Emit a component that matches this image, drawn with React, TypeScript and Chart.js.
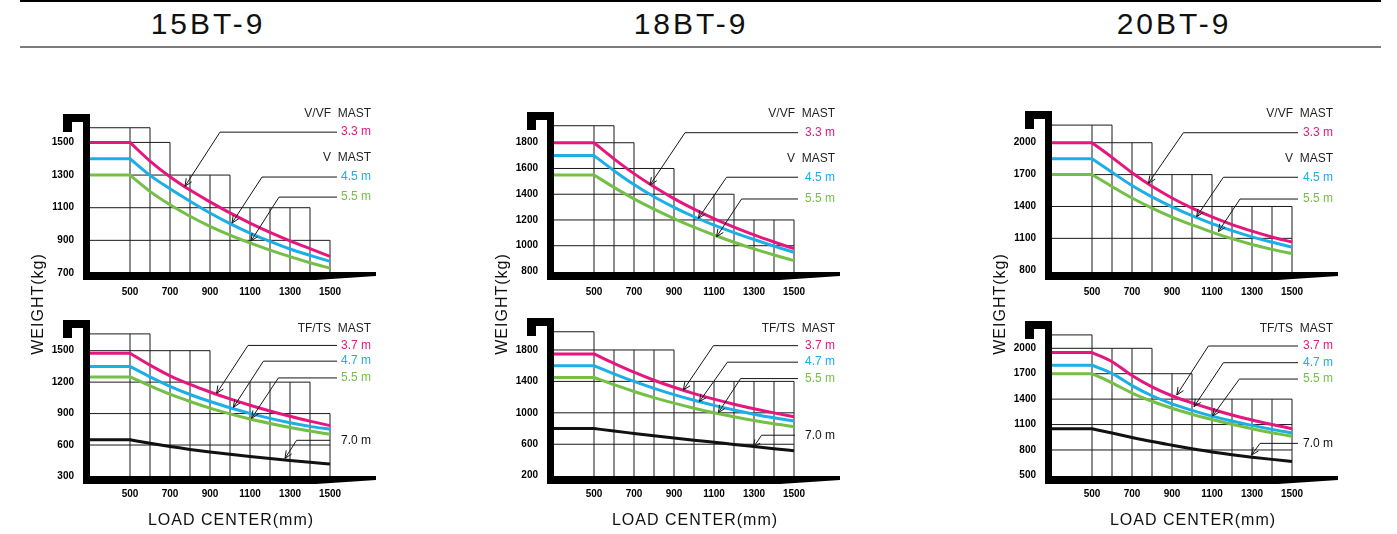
import React, { useEffect, useRef } from "react";
import { Chart, registerables } from "chart.js";

Chart.register(...registerables);

const FONT = '"Liberation Sans", Arial, Helvetica, sans-serif';
const PINK = "#E5177F";
const CYAN = "#1CAEE6";
const GREEN = "#74BF46";
const BLACK = "#111111";
const DARK = "#231F20";

// ---------- shared axes data ----------
const LOAD_CENTERS = [300, 500, 600, 700, 800, 900, 1000, 1100, 1200, 1300, 1400, 1500];
const X_TICKS = [500, 700, 900, 1100, 1300, 1500];
const GRID_EDGES = [300, 500, 600, 700, 800, 900, 1000, 1100, 1200, 1300, 1400, 1500];
const X_RANGE = [300, 1750];
const LABEL_RIGHT = 1705;

const MODELS = ["15BT-9", "18BT-9", "20BT-9"];
const X_TITLE = "LOAD CENTER(mm)";
const Y_TITLE = "WEIGHT(kg)";

// ---------- 15BT-9  V/VF ----------
const T15V_RANGE = [700, 1760];
const T15V_TICKS = [700, 900, 1100, 1300, 1500];
const T15V_ROWS = [900, 1100, 1300, 1500];
const T15V_TOPS = [1590, 1590, 1500, 1300, 1300, 1300, 1100, 1100, 1100, 1100, 900];
const T15V_33 = [1500, 1500, 1386, 1290, 1208, 1136, 1068, 1006, 949, 897, 849, 802];
const T15V_45 = [1400, 1400, 1298, 1216, 1140, 1068, 1003, 945, 894, 847, 808, 771];
const T15V_55 = [1300, 1300, 1200, 1118, 1048, 986, 932, 884, 840, 800, 763, 730];
const T15V_LABELS = ["V/VF  MAST", "3.3 m", "V  MAST", "4.5 m", "5.5 m"];
const T15V_LABEL_Y = [1679, 1563, 1404, 1288, 1165];
const T15V_LEADERS = [
  [1563, 1535, 950, 775, 1232],
  [1288, 1535, 1160, 1010, 1006],
  [1165, 1535, 1245, 1105, 896],
];

// ---------- 15BT-9  TF/TS ----------
const T15T_RANGE = [295, 1888];
const T15T_TICKS = [300, 600, 900, 1200, 1500];
const T15T_ROWS = [600, 900, 1200, 1500];
const T15T_TOPS = [1660, 1660, 1500, 1500, 1500, 1200, 1200, 1200, 1200, 1200, 900];
const T15T_37 = [1475, 1475, 1362, 1260, 1178, 1106, 1040, 980, 925, 874, 828, 785];
const T15T_47 = [1350, 1350, 1250, 1160, 1082, 1015, 956, 902, 854, 812, 778, 750];
const T15T_55 = [1250, 1250, 1165, 1085, 1015, 952, 897, 848, 806, 768, 734, 702];
const T15T_70 = [650, 650, 616, 585, 558, 534, 512, 491, 471, 452, 435, 419];
const T15T_LABELS = ["TF/TS  MAST", "3.7 m", "4.7 m", "5.5 m", "7.0 m"];
const T15T_LABEL_Y = [1714, 1550, 1400, 1240, 645];
const T15T_LEADERS = [
  [1550, 1535, 1090, 933, 1093],
  [1400, 1535, 1167, 1017, 960],
  [1240, 1535, 1242, 1108, 855],
  [645, 1500, 1333, 1275, 473],
];

// ---------- 18BT-9  V/VF ----------
const T18V_RANGE = [788, 2132];
const T18V_TICKS = [800, 1000, 1200, 1400, 1600, 1800];
const T18V_ROWS = [1000, 1200, 1400, 1600, 1800];
const T18V_TOPS = [1932, 1932, 1800, 1600, 1600, 1400, 1400, 1400, 1200, 1200, 1200];
const T18V_33 = [1800, 1800, 1675, 1560, 1458, 1366, 1284, 1210, 1144, 1084, 1029, 977];
const T18V_45 = [1700, 1700, 1583, 1475, 1380, 1298, 1225, 1160, 1102, 1048, 997, 949];
const T18V_55 = [1550, 1550, 1453, 1364, 1284, 1211, 1144, 1083, 1027, 975, 928, 884];
const T18V_LABELS = ["V/VF  MAST", "3.3 m", "V  MAST", "4.5 m", "5.5 m"];
const T18V_LABEL_Y = [2029, 1878, 1679, 1532, 1363];
const T18V_LEADERS = [
  [1878, 1520, 955, 780, 1472],
  [1532, 1520, 1163, 1022, 1213],
  [1363, 1520, 1238, 1113, 1070],
];

// ---------- 18BT-9  TF/TS ----------
const T18T_RANGE = [183, 2309];
const T18T_TICKS = [200, 600, 1000, 1400, 1800];
const T18T_ROWS = [600, 1000, 1400, 1800];
const T18T_TOPS = [2032, 1800, 1800, 1800, 1800, 1400, 1400, 1400, 1400, 1400, 1400];
const T18T_37 = [1750, 1750, 1630, 1517, 1415, 1325, 1245, 1174, 1110, 1052, 999, 950];
const T18T_47 = [1600, 1600, 1497, 1400, 1312, 1232, 1160, 1095, 1036, 983, 936, 895];
const T18T_55 = [1450, 1450, 1358, 1272, 1194, 1123, 1059, 1001, 949, 902, 860, 823];
const T18T_70 = [800, 800, 768, 738, 708, 680, 652, 625, 598, 571, 544, 516];
const T18T_LABELS = ["TF/TS  MAST", "3.7 m", "4.7 m", "5.5 m", "7.0 m"];
const T18T_LABEL_Y = [2076, 1855, 1645, 1436, 715];
const T18T_LEADERS = [
  [1855, 1520, 1097, 947, 1291],
  [1645, 1520, 1167, 1027, 1142],
  [1436, 1520, 1233, 1122, 1002],
  [715, 1505, 1338, 1297, 561],
];

// ---------- 20BT-9  V/VF ----------
const T20V_RANGE = [774, 2402];
const T20V_TICKS = [800, 1100, 1400, 1700, 2000];
const T20V_ROWS = [1100, 1400, 1700, 2000];
const T20V_TOPS = [2166, 2166, 2000, 2000, 1700, 1700, 1700, 1400, 1400, 1400, 1400];
const T20V_33 = [2000, 2000, 1862, 1718, 1590, 1480, 1385, 1302, 1230, 1168, 1113, 1065];
const T20V_45 = [1850, 1850, 1722, 1597, 1490, 1396, 1313, 1239, 1173, 1114, 1063, 1019];
const T20V_55 = [1700, 1700, 1588, 1480, 1385, 1300, 1226, 1159, 1097, 1042, 996, 956];
const T20V_LABELS = ["V/VF  MAST", "3.3 m", "V  MAST", "4.5 m", "5.5 m"];
const T20V_LABEL_Y = [2277, 2094, 1853, 1675, 1470];
const T20V_LEADERS = [
  [2094, 1530, 957, 782, 1618],
  [1675, 1530, 1157, 1023, 1304],
  [1470, 1530, 1240, 1132, 1163],
];

// ---------- 20BT-9  TF/TS ----------
const T20T_RANGE = [481, 2452];
const T20T_TICKS = [500, 800, 1100, 1400, 1700, 2000];
const T20T_ROWS = [800, 1100, 1400, 1700, 2000];
const T20T_TOPS = [2158, 2000, 2000, 2000, 1700, 1700, 1400, 1400, 1400, 1400, 1400];
const T20T_37 = [1950, 1950, 1842, 1680, 1545, 1440, 1355, 1280, 1213, 1153, 1100, 1051];
const T20T_47 = [1800, 1800, 1704, 1560, 1440, 1345, 1268, 1200, 1142, 1090, 1043, 1001];
const T20T_55 = [1700, 1700, 1593, 1472, 1375, 1292, 1222, 1160, 1103, 1051, 1004, 961];
const T20T_70 = [1050, 1050, 1001, 948, 899, 856, 815, 777, 744, 715, 689, 665];
const T20T_LABELS = ["TF/TS  MAST", "3.7 m", "4.7 m", "5.5 m", "7.0 m"];
const T20T_LABEL_Y = [2236, 2027, 1830, 1637, 878];
const T20T_LEADERS = [
  [2027, 1530, 1082, 924, 1449],
  [1830, 1530, 1157, 1010, 1311],
  [1637, 1530, 1237, 1103, 1201],
  [878, 1530, 1340, 1298, 741],
];

// ---------- layout ----------
const COL_AXIS = [90, 554, 1052];
const Y_AXIS_W = 70;
const PANEL_W = 380;
const ROW_TOP = [70, 280];
const ROW_H = [233, 227];
const ROW_XPAD = [13, 11];

const V_COLORS = [DARK, PINK, DARK, CYAN, GREEN];
const T_COLORS = [DARK, PINK, CYAN, GREEN, BLACK];

type Spec = {
  col: number;
  row: number;
  range: number[];
  ticks: number[];
  rows: number[];
  tops: number[];
  series: { values: number[]; color: string }[];
  labels: string[];
  labelY: number[];
  labelColors: string[];
  leaders: number[][];
};

const PANELS: Spec[] = [
  {
    col: 0, row: 0, range: T15V_RANGE, ticks: T15V_TICKS, rows: T15V_ROWS, tops: T15V_TOPS,
    series: [{ values: T15V_33, color: PINK }, { values: T15V_45, color: CYAN }, { values: T15V_55, color: GREEN }],
    labels: T15V_LABELS, labelY: T15V_LABEL_Y, labelColors: V_COLORS, leaders: T15V_LEADERS,
  },
  {
    col: 0, row: 1, range: T15T_RANGE, ticks: T15T_TICKS, rows: T15T_ROWS, tops: T15T_TOPS,
    series: [{ values: T15T_37, color: PINK }, { values: T15T_47, color: CYAN }, { values: T15T_55, color: GREEN }, { values: T15T_70, color: BLACK }],
    labels: T15T_LABELS, labelY: T15T_LABEL_Y, labelColors: T_COLORS, leaders: T15T_LEADERS,
  },
  {
    col: 1, row: 0, range: T18V_RANGE, ticks: T18V_TICKS, rows: T18V_ROWS, tops: T18V_TOPS,
    series: [{ values: T18V_33, color: PINK }, { values: T18V_45, color: CYAN }, { values: T18V_55, color: GREEN }],
    labels: T18V_LABELS, labelY: T18V_LABEL_Y, labelColors: V_COLORS, leaders: T18V_LEADERS,
  },
  {
    col: 1, row: 1, range: T18T_RANGE, ticks: T18T_TICKS, rows: T18T_ROWS, tops: T18T_TOPS,
    series: [{ values: T18T_37, color: PINK }, { values: T18T_47, color: CYAN }, { values: T18T_55, color: GREEN }, { values: T18T_70, color: BLACK }],
    labels: T18T_LABELS, labelY: T18T_LABEL_Y, labelColors: T_COLORS, leaders: T18T_LEADERS,
  },
  {
    col: 2, row: 0, range: T20V_RANGE, ticks: T20V_TICKS, rows: T20V_ROWS, tops: T20V_TOPS,
    series: [{ values: T20V_33, color: PINK }, { values: T20V_45, color: CYAN }, { values: T20V_55, color: GREEN }],
    labels: T20V_LABELS, labelY: T20V_LABEL_Y, labelColors: V_COLORS, leaders: T20V_LEADERS,
  },
  {
    col: 2, row: 1, range: T20T_RANGE, ticks: T20T_TICKS, rows: T20T_ROWS, tops: T20T_TOPS,
    series: [{ values: T20T_37, color: PINK }, { values: T20T_47, color: CYAN }, { values: T20T_55, color: GREEN }, { values: T20T_70, color: BLACK }],
    labels: T20T_LABELS, labelY: T20T_LABEL_Y, labelColors: T_COLORS, leaders: T20T_LEADERS,
  },
];

function gridSegments(rows: number[], tops: number[], yMin: number) {
  const pts: { x: number; y: number | null }[] = [];
  const levels = Array.from(new Set([...rows, ...tops])).sort((a, b) => a - b);
  for (const L of levels) {
    let end = GRID_EDGES[0];
    tops.forEach((t, i) => {
      if (t >= L) end = Math.max(end, GRID_EDGES[i + 1]);
    });
    pts.push({ x: GRID_EDGES[0], y: L }, { x: end, y: L }, { x: end, y: null });
  }
  for (let i = 1; i < GRID_EDGES.length; i++) {
    const left = tops[i - 1];
    const right = i < tops.length ? tops[i] : -Infinity;
    const h = Math.max(left, right);
    pts.push({ x: GRID_EDGES[i], y: yMin }, { x: GRID_EDGES[i], y: h }, { x: GRID_EDGES[i], y: null });
  }
  return pts;
}

function makeDecor(p: Spec) {
  return {
    id: "decor",
    afterDatasetsDraw(chart: any) {
      const { ctx, chartArea, scales } = chart;
      const xs = scales.x;
      const ys = scales.y;
      const A = chartArea.left;
      const B = chartArea.bottom;
      const gridTop = ys.getPixelForValue(Math.max(...p.tops));
      const hookTop = Math.round(gridTop - 14);
      ctx.save();
      ctx.fillStyle = "#000";
      // vertical mast bar + hook
      ctx.fillRect(A - 7, hookTop, 7, B + 7 - hookTop);
      ctx.fillRect(A - 27, hookTop, 27, 8);
      ctx.fillRect(A - 27, hookTop, 9, 18);
      // fork blade
      const endX = xs.getPixelForValue(1730);
      ctx.beginPath();
      ctx.moveTo(A - 7, B - 1);
      ctx.lineTo(endX, B - 1);
      ctx.lineTo(endX, B + 3);
      ctx.lineTo(endX - 60, B + 7);
      ctx.lineTo(A - 7, B + 7);
      ctx.closePath();
      ctx.fill();

      // leaders
      ctx.strokeStyle = "#151515";
      ctx.lineWidth = 1;
      for (const [ly, sx, ex, tx, ty] of p.leaders) {
        const pSx = xs.getPixelForValue(sx);
        const pLy = ys.getPixelForValue(ly);
        const pEx = xs.getPixelForValue(ex);
        const pTx = xs.getPixelForValue(tx);
        const pTy = ys.getPixelForValue(ty);
        ctx.beginPath();
        ctx.moveTo(pSx, pLy);
        ctx.lineTo(pEx, pLy);
        ctx.lineTo(pTx, pTy);
        ctx.stroke();
        const ang = Math.atan2(pTy - pLy, pTx - pEx);
        const len = 8;
        const spread = 0.42;
        ctx.beginPath();
        ctx.moveTo(pTx - len * Math.cos(ang - spread), pTy - len * Math.sin(ang - spread));
        ctx.lineTo(pTx, pTy);
        ctx.lineTo(pTx - len * Math.cos(ang + spread), pTy - len * Math.sin(ang + spread));
        ctx.stroke();
      }
      // labels
      ctx.font = `12px ${FONT}`;
      ctx.textAlign = "right";
      ctx.textBaseline = "middle";
      p.labels.forEach((t, i) => {
        ctx.fillStyle = p.labelColors[i];
        ctx.fillText(t, xs.getPixelForValue(LABEL_RIGHT), ys.getPixelForValue(p.labelY[i]));
      });
      ctx.restore();
    },
  };
}

function buildConfig(p: Spec): any {
  const datasets: any[] = [];
  p.series.forEach((s) => {
    datasets.push({
      data: LOAD_CENTERS.slice(0, 2).map((x, i) => ({ x, y: s.values[i] })),
      borderColor: s.color,
      borderWidth: 3,
      borderCapStyle: "round",
      pointRadius: 0,
      tension: 0,
      order: 1,
    });
    datasets.push({
      data: LOAD_CENTERS.slice(1).map((x, i) => ({ x, y: s.values[i + 1] })),
      borderColor: s.color,
      borderWidth: 3,
      pointRadius: 0,
      cubicInterpolationMode: "monotone",
      order: 1,
    });
  });
  datasets.push({
    data: gridSegments(p.rows, p.tops, p.range[0]),
    borderColor: "#1a1a1a",
    borderWidth: 1,
    pointRadius: 0,
    tension: 0,
    spanGaps: false,
    order: 5,
  });
  const tickFont = { family: FONT, size: 10, weight: "bold" as const };
  return {
    type: "line",
    data: { datasets },
    options: {
      animation: false,
      responsive: true,
      maintainAspectRatio: false,
      events: [],
      layout: { padding: { top: 30, right: PANEL_W - Y_AXIS_W - 290, left: 0, bottom: 0 } },
      plugins: { legend: { display: false }, tooltip: { enabled: false } },
      scales: {
        x: {
          type: "linear",
          min: X_RANGE[0],
          max: X_RANGE[1],
          grid: { display: false, drawTicks: false },
          border: { display: false },
          ticks: {
            padding: ROW_XPAD[p.row],
            color: "#000",
            font: tickFont,
            autoSkip: false,
            maxRotation: 0,
            callback: (v: any) => String(v),
          },
          afterBuildTicks: (s: any) => {
            s.ticks = X_TICKS.map((v) => ({ value: v }));
          },
          afterFit: (s: any) => {
            s.height = 30;
          },
        },
        y: {
          type: "linear",
          min: p.range[0],
          max: p.range[1],
          grid: { display: false, drawTicks: false },
          border: { display: false },
          ticks: {
            padding: 16,
            color: "#000",
            font: tickFont,
            autoSkip: false,
            callback: (v: any) => String(v),
          },
          afterBuildTicks: (s: any) => {
            s.ticks = p.ticks.map((v) => ({ value: v }));
          },
          afterFit: (s: any) => {
            s.width = Y_AXIS_W;
          },
        },
      },
    },
    plugins: [makeDecor(p)],
  };
}

function Panel({ spec }: { spec: Spec }) {
  const ref = useRef<HTMLCanvasElement | null>(null);
  useEffect(() => {
    if (!ref.current) return;
    const chart = new Chart(ref.current, buildConfig(spec));
    return () => chart.destroy();
  }, [spec]);
  return (
    <div
      style={{
        position: "absolute",
        left: COL_AXIS[spec.col] - Y_AXIS_W,
        top: ROW_TOP[spec.row],
        width: PANEL_W,
        height: ROW_H[spec.row],
      }}
    >
      <canvas ref={ref} />
    </div>
  );
}

const TITLE_CX = [208, 691, 1174];

export default function App() {
  return (
    <div
      style={{
        position: "absolute",
        left: 0,
        top: 0,
        width: 1397,
        height: 534,
        background: "#fff",
        fontFamily: FONT,
        overflow: "hidden",
      }}
    >
      <div style={{ position: "absolute", left: 20, top: 0, width: 1361, height: 2, background: "#000" }} />
      <div style={{ position: "absolute", left: 20, top: 46, width: 1361, height: 2, background: "#7d7d7d" }} />
      {MODELS.map((m, i) => (
        <div
          key={m}
          style={{
            position: "absolute",
            left: TITLE_CX[i] - 120,
            width: 240,
            top: 8,
            height: 32,
            lineHeight: "32px",
            textAlign: "center",
            fontSize: 30,
            letterSpacing: 3,
            color: "#111",
          }}
        >
          {m}
        </div>
      ))}
      {PANELS.map((p, i) => (
        <Panel key={i} spec={p} />
      ))}
      {COL_AXIS.map((a, i) => (
        <React.Fragment key={i}>
          <div
            style={{
              position: "absolute",
              left: a - 52 - 100,
              top: 304 - 10,
              width: 200,
              height: 20,
              lineHeight: "20px",
              textAlign: "center",
              fontSize: 16,
              letterSpacing: 1,
              color: "#111",
              transform: "rotate(-90deg)",
            }}
          >
            {Y_TITLE}
          </div>
          <div
            style={{
              position: "absolute",
              left: a + 141 - 120,
              top: 510,
              width: 240,
              height: 20,
              lineHeight: "20px",
              textAlign: "center",
              fontSize: 16,
              letterSpacing: 1,
              color: "#111",
            }}
          >
            {X_TITLE}
          </div>
        </React.Fragment>
      ))}
    </div>
  );
}
